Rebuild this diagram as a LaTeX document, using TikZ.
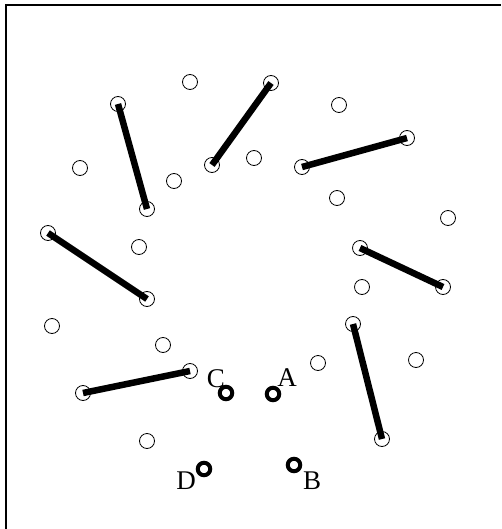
\documentclass[tikz,border=0pt]{standalone}
\usepackage{fontspec}
\setmainfont{Liberation Serif}
\usetikzlibrary{positioning}

\begin{document}
\begin{tikzpicture}[
  x=1pt, y=-1pt,
  pt/.style={draw, circle, minimum size=15pt, inner sep=0pt, line width=0.8pt},
  query/.style={draw, circle, minimum size=12.5pt, inner sep=0pt, line width=4pt},
  bar/.style={line width=6.5pt},
  tag/.style={inner sep=0pt, font=\fontsize{27}{27}\selectfont}
]
  \useasboundingbox (0,0) rectangle (501,529);
  %% Frame (top and left only)
  \draw[line width=1.5pt] (6,529) -- (6,5) -- (501,5);
  %% Loose points
  \foreach \n/\x/\y in {1/190/82, 2/339/105, 3/80/168, 4/174/181, 5/254/158,
                        6/337/198, 7/448/218, 8/139/247, 9/362/287, 10/52/326,
                        11/163/345, 12/318/363, 13/416/360, 14/147/441}
    \node[pt] (p\n) at (\x,\y) {};
  %% Segment end points
  \foreach \i/\xa/\ya/\xb/\yb in {1/118/104/147/209, 2/212/165/271/83,
                                  3/302/167/407/138, 4/48/233/147/299,
                                  5/360/248/443/287, 6/353/324/382/439,
                                  7/83/393/190/371}
  {
    \node[pt] (a\i) at (\xa,\ya) {};
    \node[pt] (b\i) at (\xb,\yb) {};
  }
  \foreach \i in {1,...,7}
    \draw[bar] (a\i.center) -- (b\i.center);
  %% Query points
  \node[query] (qa) at (273,394) {};
  \node[query] (qb) at (294,465) {};
  \node[query] (qc) at (226,393) {};
  \node[query] (qd) at (204,469) {};
  \node[tag] (la) at (287,378) {A};
  \node[tag] (lb) at (312,481) {B};
  \node[tag] (lc) at (216,379) {C};
  \node[tag] (ld) at (186,481) {D};
\end{tikzpicture}
\end{document}
